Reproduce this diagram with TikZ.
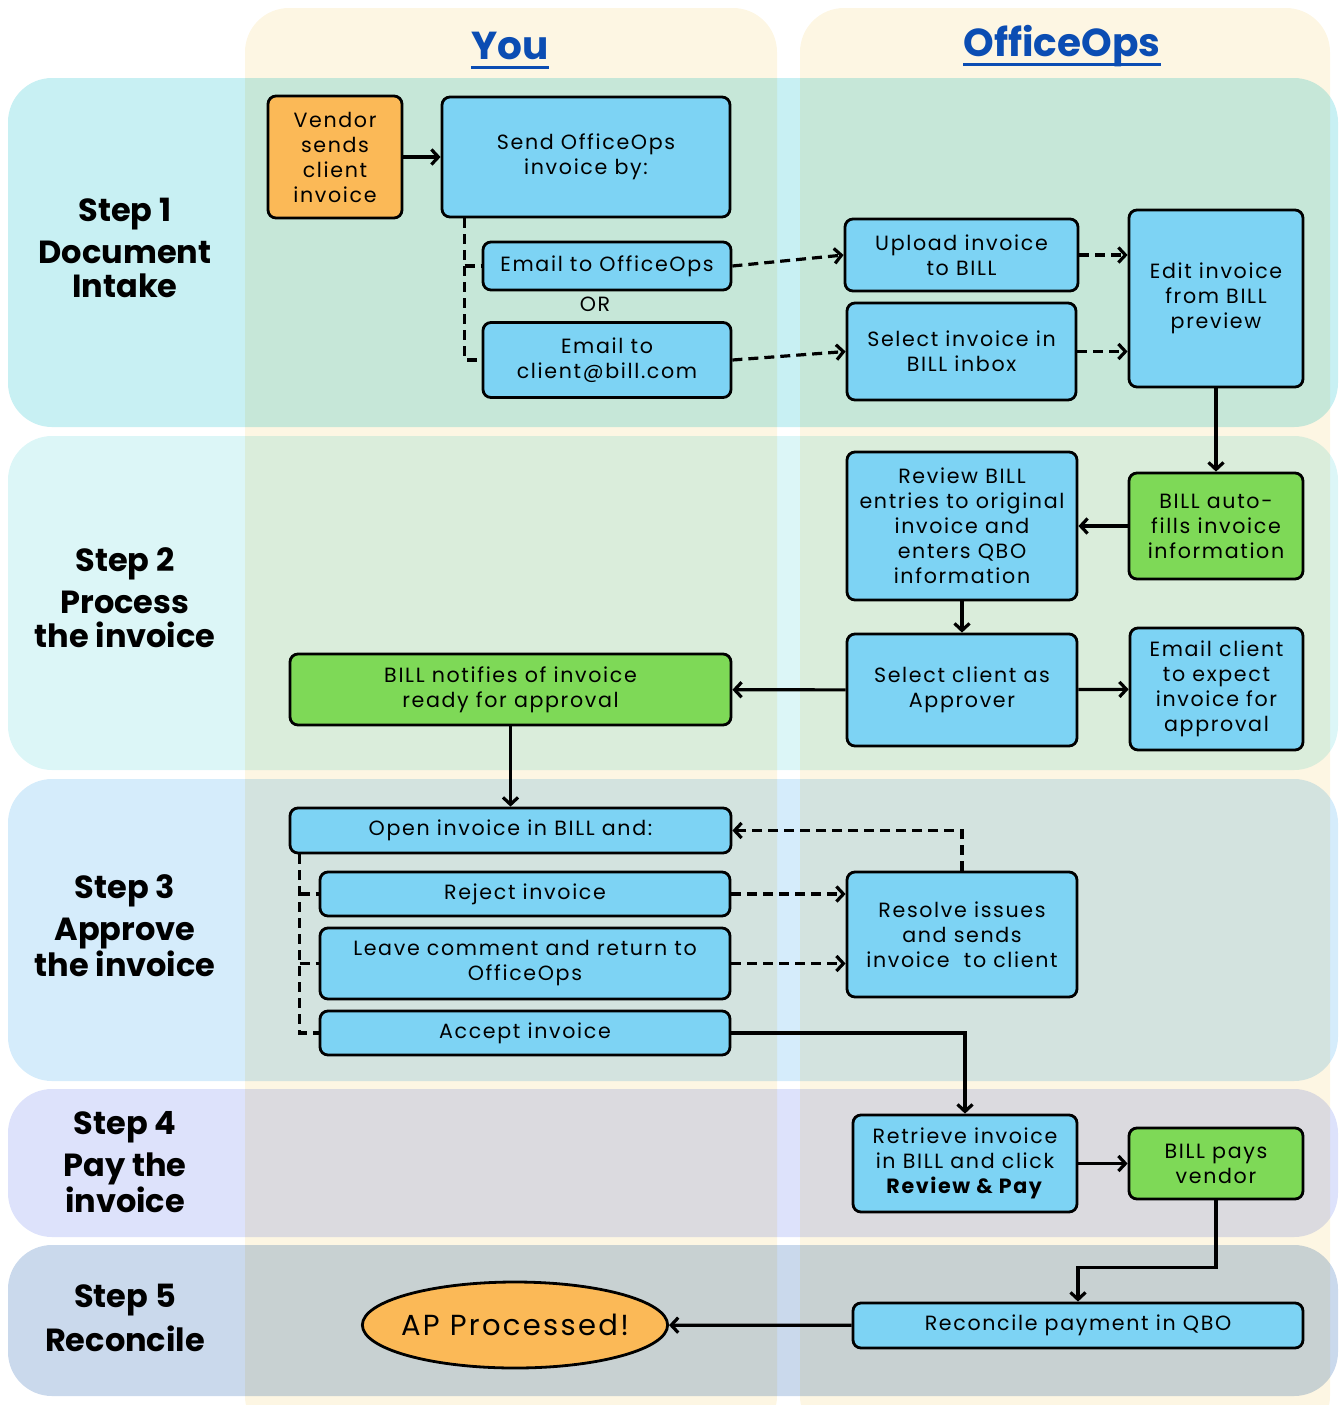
\documentclass[tikz,border=0pt]{standalone}
\usepackage{fontspec}
\setmainfont{Poppins}
\newfontfamily\boxfont{Poppins}[LetterSpace=8]
\usetikzlibrary{arrows.meta,shapes.geometric}

\definecolor{boxblue}{HTML}{7DD3F4}
\definecolor{boxgreen}{HTML}{7ED957}
\definecolor{boxorange}{HTML}{FBB957}
\definecolor{cream}{HTML}{FDF6E3}
\definecolor{rowA}{HTML}{C8F0F3}
\definecolor{rowB}{HTML}{DCF6F7}
\definecolor{rowC}{HTML}{D5ECFB}
\definecolor{rowD}{HTML}{DDE2FB}
\definecolor{rowE}{HTML}{CAD9EC}
\definecolor{headblue}{HTML}{0B4DB3}

\begin{document}
\begin{tikzpicture}[
    x=0.5pt, y=-0.5pt,
    stepbox/.style={draw, line width=1.4pt, rounded corners=4pt, fill=boxblue,
      align=center, inner sep=0pt, font=\boxfont\fontsize{10.3}{12.5}\selectfont},
    billbox/.style={stepbox, fill=boxgreen},
    startbox/.style={stepbox, fill=boxorange},
    steplabel/.style={align=center, font=\bfseries\fontsize{16}{17}\selectfont},
    lanehead/.style={inner sep=0pt, text=headblue, font=\bfseries\fontsize{19.5}{22}\selectfont},
    flow/.style={-{Straight Barb[length=3.5pt,width=7.5pt]}, line width=1.6pt},
    maybe/.style={flow, dash pattern=on 5pt off 3pt},
    fork/.style={line width=1.6pt, dash pattern=on 5pt off 3pt}
  ]
    \useasboundingbox (0,0) rectangle (1340,1405);

    % Step rows
    \foreach \top/\bot/\col in {78/427/rowA, 436/770/rowB, 779/1081/rowC,
                                1089/1237/rowD, 1245/1396/rowE}
      \fill[\col, rounded corners=22pt] (8,\top) rectangle (1338,\bot);

    % Lanes
    \begin{scope}[blend mode=multiply]
      \fill[cream, rounded corners=22pt] (245,8) rectangle (777,1440);
      \fill[cream, rounded corners=22pt] (800,8) rectangle (1330,1440);
    \end{scope}

    \node[lanehead] (you) at (510,46) {You};
    \node[lanehead] (ops) at (1062,46) {OfficeOps};
    \draw[headblue, line width=1.5pt] ([yshift=-4pt]you.base west) -- ([yshift=-4pt]you.base east);
    \draw[headblue, line width=1.5pt] ([yshift=-4pt]ops.base west) -- ([yshift=-4pt]ops.base east);

    % Step labels
    \node[steplabel] (s1) at (125,248) {Step 1\\[4pt]Document\\Intake};
    \node[steplabel] (s2) at (125,598) {Step 2\\[4pt]Process\\the invoice};
    \node[steplabel] (s3) at (125,926) {Step 3\\[4pt]Approve\\the invoice};
    \node[steplabel] (s4) at (125,1162) {Step 4\\[4pt]Pay the\\invoice};
    \node[steplabel] (s5) at (125,1318) {Step 5\\[4pt]Reconcile};

    % Step 1
    \node[startbox, minimum width=67pt, minimum height=61pt] (vendor) at (335,157) {Vendor\\sends\\client\\invoice};
    \node[stepbox, minimum width=144pt, minimum height=60pt] (send) at (586,157) {Send OfficeOps\\invoice by:};
    \node[stepbox, minimum width=124pt, minimum height=24pt] (mailops) at (607,266) {Email to OfficeOps};
    \node[font=\boxfont\fontsize{10.3}{12.5}\selectfont] (or) at (595,304) {OR};
    \node[stepbox, minimum width=124pt, minimum height=37.5pt] (mailbill) at (607,360) {Email to\\client@bill.com};
    \node[stepbox, minimum width=116.5pt, minimum height=36pt] (upload) at (961.5,255) {Upload invoice\\to BILL};
    \node[stepbox, minimum width=114.5pt, minimum height=48.5pt] (inbox) at (961.5,351.5) {Select invoice in\\BILL inbox};
    \node[stepbox, minimum width=87pt, minimum height=88.5pt] (edit) at (1216,298.5) {Edit invoice\\from BILL\\preview};

    % Step 2
    \node[billbox, minimum width=87pt, minimum height=53pt] (autofill) at (1216,526) {BILL auto-\\fills invoice\\information};
    \node[stepbox, minimum width=115pt, minimum height=74pt] (review) at (962,526) {Review BILL\\entries to original\\invoice and\\enters QBO\\information};
    \node[stepbox, minimum width=115pt, minimum height=56pt] (approver) at (962,690) {Select client as\\Approver};
    \node[stepbox, minimum width=86.5pt, minimum height=61pt] (mailclient) at (1216.5,689) {Email client\\to expect\\invoice for\\approval};
    \node[billbox, minimum width=220.5pt, minimum height=35.5pt] (notify) at (510.5,689.5) {BILL notifies of invoice\\ready for approval};

    % Step 3
    \node[stepbox, minimum width=220.5pt, minimum height=22.5pt] (open) at (510.5,830.5) {Open invoice in BILL and:};
    \node[stepbox, minimum width=205pt, minimum height=22pt] (reject) at (525,894) {Reject invoice};
    \node[stepbox, minimum width=205pt, minimum height=35.5pt] (comment) at (525,963.5) {Leave comment and return to\\OfficeOps};
    \node[stepbox, minimum width=205pt, minimum height=22pt] (accept) at (525,1033) {Accept invoice};
    \node[stepbox, minimum width=115pt, minimum height=62.5pt] (resolve) at (962,934.5) {Resolve issues\\and sends\\invoice\ \ to client};

    % Step 4
    \node[stepbox, minimum width=112pt, minimum height=48.5pt] (retrieve) at (965,1163.5) {Retrieve invoice\\in BILL and click\\\textbf{Review \& Pay}};
    \node[billbox, minimum width=87pt, minimum height=35.5pt] (pays) at (1216,1163.5) {BILL pays\\vendor};

    % Step 5
    \node[stepbox, minimum width=225pt, minimum height=22.5pt] (reconcile) at (1078,1325.5) {Reconcile payment in QBO};
    \node[startbox, ellipse, minimum width=152pt, minimum height=43pt, inner xsep=-3pt,
          font=\boxfont\fontsize{14.5}{16}\selectfont] (done) at (515,1325) {AP Processed!};

    % Connections
    \draw[flow] (vendor) -- (send);
    \draw[fork] ([xshift=12pt]send.south west) |- (mailbill.west);
    \draw[fork] ([xshift=12pt]send.south west |- mailops.west) -- (mailops.west);
    \draw[maybe] (mailops.east) -- (upload.west);
    \draw[maybe] (mailbill.east) -- (inbox.west);
    \draw[maybe] (upload.east) -- (upload.east -| edit.west);
    \draw[maybe] (inbox.east) -- (inbox.east -| edit.west);
    \draw[flow] (edit) -- (autofill);
    \draw[flow] (autofill) -- (review);
    \draw[flow] (review) -- (approver);
    \draw[flow] (approver) -- (notify);
    \draw[flow] (approver) -- (mailclient);
    \draw[flow] (notify) -- (open);
    \draw[fork] ([xshift=5.5pt]open.south west) |- (accept.west);
    \draw[fork] ([xshift=5.5pt]open.south west |- reject.west) -- (reject.west);
    \draw[fork] ([xshift=5.5pt]open.south west |- comment.west) -- (comment.west);
    \draw[maybe] (reject.east) -- (reject.east -| resolve.west);
    \draw[maybe] (comment.east) -- (comment.east -| resolve.west);
    \draw[maybe] (resolve.north) |- (open.east);
    \draw[flow] (accept.east) -| (retrieve.north);
    \draw[flow] (retrieve.east) -- (retrieve.east -| pays.west);
    \draw[flow] (pays.south) -- ++(0,67) -| (reconcile.north);
    \draw[flow] (reconcile) -- (done);

  \end{tikzpicture}
\end{document}
